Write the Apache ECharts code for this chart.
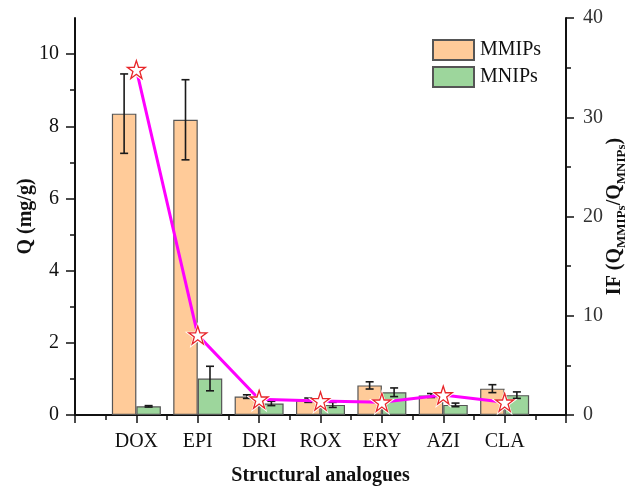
<!DOCTYPE html>
<html>
<head>
<meta charset="utf-8">
<script src="https://cdn.jsdelivr.net/npm/echarts@6/dist/echarts.min.js"></script>
<style>
  html, body { margin: 0; padding: 0; background: #fff; }
  #chart { width: 629px; height: 486px; }
</style>
</head>
<body>
<div id="chart"></div>
<script>
// Adsorption capacity (Q) of imprinted vs non-imprinted particles for structural analogues
const categories = ['DOX', 'EPI', 'DRI', 'ROX', 'ERY', 'AZI', 'CLA'];
const mmipsQ   = [8.35, 8.18, 0.51, 0.41, 0.82, 0.54, 0.73];
const mmipsErr = [1.10, 1.11, 0.05, 0.06, 0.10, 0.055, 0.11];
const mnipsQ   = [0.24, 1.01, 0.32, 0.28, 0.63, 0.28, 0.55];
const mnipsErr = [0.02, 0.34, 0.06, 0.07, 0.12, 0.05, 0.09];
// Imprinting factor IF = Q(MMIPs) / Q(MNIPs)
const imprintFactor = [34.8, 8.05, 1.58, 1.41, 1.28, 2.01, 1.28];
const leftTicks = [0, 2, 4, 6, 8, 10];
const leftMinorTicks = [1, 3, 5, 7, 9];

const FONT = 'Liberation Serif';
const AXIS_COLOR = '#111';
const BAR_W = 24.5;
const STAR = 'path://M50,0 L61.8,35.4 L100,35.4 L69.1,57.3 L80.9,95.1 L50,72.4 L19.1,95.1 L30.9,57.3 L0,35.4 L38.2,35.4 Z';

const positions = categories.map((_, i) => i + 1);
const pairs = (vals) => vals.map((v, i) => [positions[i], v]);

function errorData(vals, errs, side) {
  return vals.map((v, i) => [positions[i], v - errs[i], v + errs[i], side]);
}

function renderError(params, api) {
  const x = api.value(0);
  const lo = api.coord([x, api.value(1)]);
  const hi = api.coord([x, api.value(2)]);
  const cx = lo[0] + api.value(3) * BAR_W / 2;
  const cap = 4;
  const style = { stroke: '#1a1a1a', lineWidth: 1.6, fill: null };
  return {
    type: 'group',
    children: [
      { type: 'line', shape: { x1: cx, y1: lo[1], x2: cx, y2: hi[1] }, style },
      { type: 'line', shape: { x1: cx - cap, y1: lo[1], x2: cx + cap, y2: lo[1] }, style },
      { type: 'line', shape: { x1: cx - cap, y1: hi[1], x2: cx + cap, y2: hi[1] }, style }
    ]
  };
}

const chart = echarts.init(document.getElementById('chart'), null, { renderer: 'canvas' });

const option = {
  backgroundColor: '#fff',
  animation: false,
  textStyle: { fontFamily: FONT },
  grid: { left: 75, right: 63, top: 18, bottom: 71, containLabel: false, outerBoundsMode: 'none' },
  legend: {
    data: ['MMIPs', 'MNIPs'],
    orient: 'vertical',
    left: 427,
    top: 34,
    itemWidth: 41,
    itemHeight: 20,
    itemGap: 5,
    icon: 'rect',
    textStyle: { fontFamily: FONT, fontSize: 20, color: '#111', padding: [0, 0, 0, 1] }
  },
  xAxis: [
    {
      type: 'value',
      min: 0, max: 8, interval: 1,
      position: 'bottom',
      name: 'Structural analogues',
      nameLocation: 'middle',
      nameGap: 51,
      nameMoveOverlap: false,
      nameTextStyle: { fontFamily: FONT, fontSize: 20, fontWeight: 'bold', color: '#111' },
      axisLine: { lineStyle: { color: AXIS_COLOR, width: 2 } },
      axisTick: { length: 8, lineStyle: { color: AXIS_COLOR, width: 1.5 } },
      minorTick: { show: true, splitNumber: 2, length: 5, lineStyle: { color: AXIS_COLOR, width: 1.5 } },
      splitLine: { show: false },
      axisLabel: {
        margin: 17,
        fontFamily: FONT, fontSize: 20, color: '#111',
        formatter: (v) => categories[v - 1] || ''
      }
    },
    {
      // top frame line
      type: 'value',
      min: 0, max: 8,
      position: 'top',
      axisLine: { show: true, lineStyle: { color: AXIS_COLOR, width: 2 } },
      axisTick: { show: false },
      axisLabel: { show: false },
      splitLine: { show: false }
    }
  ],
  yAxis: [
    {
      type: 'value',
      min: 0, max: 11, interval: 2,
      position: 'left',
      offset: 0,
      name: 'Q (mg/g)',
      nameLocation: 'middle',
      nameGap: 39,
      nameRotate: 90,
      nameMoveOverlap: false,
      nameTextStyle: { fontFamily: FONT, fontSize: 20, fontWeight: 'bold', color: '#111' },
      axisLine: { show: true, onZero: false, lineStyle: { color: AXIS_COLOR, width: 2 } },
      axisTick: { length: 9, inside: false, customValues: leftTicks, lineStyle: { color: AXIS_COLOR, width: 1.5 } },
      splitLine: { show: false },
      axisLabel: {
        margin: 16, customValues: leftTicks,
        fontFamily: FONT, fontSize: 20, color: '#111'
      }
    },
    {
      type: 'value',
      min: 0, max: 40, interval: 10,
      position: 'right',
      offset: 0,
      name: '{b|IF (Q}{s|MMIPs}{b|/Q}{s|MNIPs}{b|)}',
      nameLocation: 'middle',
      nameGap: 36,
      nameRotate: 90,
      nameMoveOverlap: false,
      nameTextStyle: {
        rich: {
          b: { fontFamily: FONT, fontSize: 20, fontWeight: 'bold', color: '#111', lineHeight: 26, verticalAlign: 'middle' },
          s: { fontFamily: FONT, fontSize: 13, fontWeight: 'bold', color: '#111', lineHeight: 14, verticalAlign: 'bottom' }
        }
      },
      axisLine: { show: true, onZero: false, lineStyle: { color: AXIS_COLOR, width: 2 } },
      axisTick: { length: 8, inside: false, lineStyle: { color: AXIS_COLOR, width: 1.5 } },
      minorTick: { show: true, splitNumber: 2, length: 5, lineStyle: { color: AXIS_COLOR, width: 1.5 } },
      splitLine: { show: false },
      axisLabel: { margin: 17, fontFamily: FONT, fontSize: 20, color: '#333' }
    },
    {
      // minor ticks of the Q axis
      type: 'value',
      min: 0, max: 11,
      position: 'left',
      offset: 0,
      axisLine: { show: false, onZero: false },
      axisTick: { show: true, inside: false, length: 5, customValues: leftMinorTicks, lineStyle: { color: AXIS_COLOR, width: 1.5 } },
      axisLabel: { show: false },
      splitLine: { show: false }
    }
  ],
  series: [
    {
      name: 'MMIPs',
      type: 'bar',
      xAxisIndex: 0, yAxisIndex: 0,
      barWidth: BAR_W,
      barGap: '0%',
      data: pairs(mmipsQ),
      itemStyle: { color: '#FFCB99', borderColor: '#555', borderWidth: 1.2 }
    },
    {
      name: 'MNIPs',
      type: 'bar',
      xAxisIndex: 0, yAxisIndex: 0,
      barWidth: BAR_W,
      barGap: '0%',
      data: pairs(mnipsQ),
      itemStyle: { color: '#9DD69C', borderColor: '#555', borderWidth: 1.2 }
    },
    {
      type: 'custom',
      xAxisIndex: 0, yAxisIndex: 0,
      renderItem: renderError,
      data: errorData(mmipsQ, mmipsErr, -1),
      z: 5
    },
    {
      type: 'custom',
      xAxisIndex: 0, yAxisIndex: 0,
      renderItem: renderError,
      data: errorData(mnipsQ, mnipsErr, 1),
      z: 5
    },
    {
      name: 'IF',
      type: 'line',
      xAxisIndex: 0, yAxisIndex: 1,
      data: pairs(imprintFactor),
      showSymbol: false,
      lineStyle: { color: '#FF00FF', width: 3 },
      z: 6
    },
    {
      // white halo leaving a gap between line and stars
      type: 'scatter',
      xAxisIndex: 0, yAxisIndex: 1,
      data: pairs(imprintFactor),
      symbol: STAR,
      symbolSize: 26,
      itemStyle: { color: '#fff', opacity: 1 },
      z: 7
    },
    {
      type: 'scatter',
      xAxisIndex: 0, yAxisIndex: 1,
      data: pairs(imprintFactor),
      symbol: STAR,
      symbolSize: 18,
      itemStyle: { color: '#fff', borderColor: '#E8262A', borderWidth: 1.3, opacity: 1 },
      z: 8
    }
  ]
};

chart.setOption(option);
</script>
</body>
</html>
